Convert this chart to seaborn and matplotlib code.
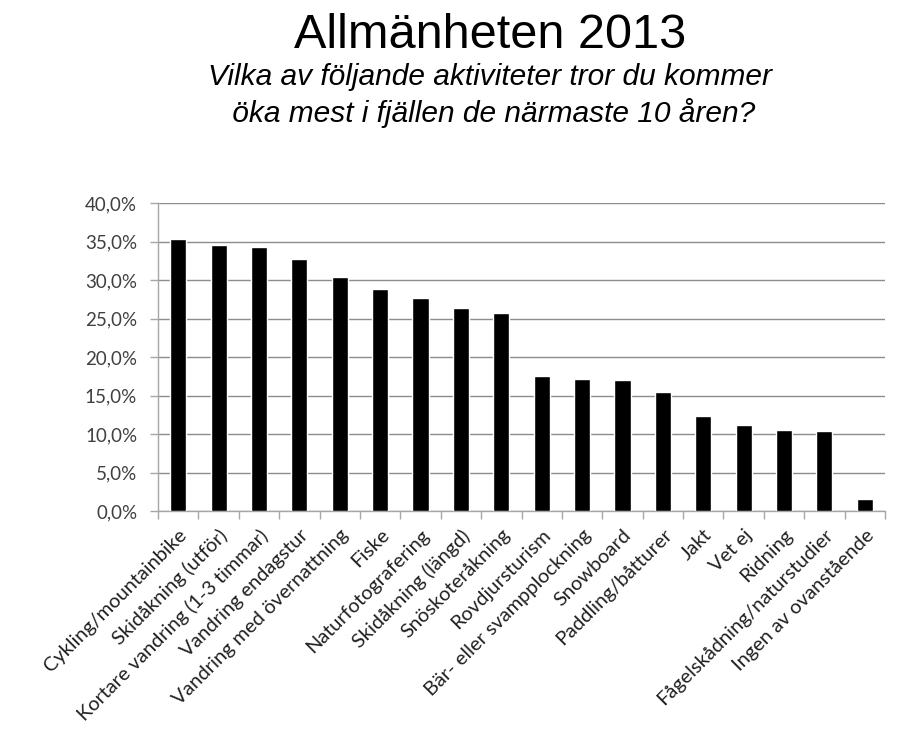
import matplotlib
matplotlib.use("Agg")
import matplotlib.pyplot as plt
import seaborn as sns
import pandas as pd
from matplotlib.ticker import FuncFormatter, FixedLocator

categories = [
    "Cykling/mountainbike", "Skidåkning (utför)", "Kortare vandring (1-3 timmar)",
    "Vandring endagstur", "Vandring med övernattning", "Fiske", "Naturfotografering",
    "Skidåkning (längd)", "Snöskoteråkning", "Rovdjursturism",
    "Bär- eller svampplockning", "Snowboard", "Paddling/båtturer", "Jakt", "Vet ej",
    "Ridning", "Fågelskådning/naturstudier", "Ingen av ovanstående",
]
values = [35.3, 34.5, 34.3, 32.7, 30.4, 28.8, 27.6, 26.4, 25.7,
          17.5, 17.2, 17.0, 15.5, 12.4, 11.2, 10.5, 10.4, 1.55]
yticks = [0, 5, 10, 15, 20, 25, 30, 35, 40]

df = pd.DataFrame({"aktivitet": categories, "andel": values})

sns.set_theme(style="white")
plt.rcParams["font.family"] = ["Lato", "DejaVu Sans"]

fig = plt.figure(figsize=(9, 7.47), dpi=100)
ax = fig.add_axes([158/900, 1-511/747, (885-158)/900, (511-203)/747])

sns.barplot(data=df, x="aktivitet", y="andel", color="black", width=0.4,
            saturation=1, ax=ax, zorder=3)

ax.set_ylim(0, 40)
ax.set_xlim(-0.5, len(categories) - 0.5)
ax.yaxis.set_major_locator(FixedLocator(yticks))
ax.yaxis.set_major_formatter(FuncFormatter(lambda v, p: f"{v:.1f}".replace(".", ",") + "%"))
ax.grid(axis="y", color="#8c8c8c", lw=1, zorder=0)
ax.set_xlabel("")
ax.set_ylabel("")

for s in ["top", "right"]:
    ax.spines[s].set_visible(False)
for s in ["left", "bottom"]:
    ax.spines[s].set_color("#a6a6a6")
    ax.spines[s].set_linewidth(1)

ax.tick_params(axis="y", left=True, length=6, width=1, color="#a6a6a6",
               labelsize=13.5, labelcolor="#404040", pad=9)
ax.set_xticks(range(len(categories)))
ax.set_xticklabels(categories, rotation=45, ha="right", rotation_mode="anchor",
                   fontsize=14.4, color="#202020")
ax.tick_params(axis="x", bottom=False, length=0, pad=11)
ax.set_xticks([i - 0.5 for i in range(len(categories) + 1)], minor=True)
ax.tick_params(axis="x", which="minor", bottom=True, length=6, width=1, color="#a6a6a6")

cx = 490 / 900
fig.text(cx, 1-48/747, "Allmänheten 2013", ha="center", va="baseline",
         fontsize=35, family=["Liberation Sans", "DejaVu Sans"], color="black")
fig.text(cx, 1-85/747, "Vilka av följande aktiviteter tror du kommer", ha="center",
         va="baseline", fontsize=21.5, style="italic",
         family=["Liberation Sans", "DejaVu Sans"], color="black")
fig.text(cx, 1-122/747, " öka mest i fjällen de närmaste 10 åren?", ha="center",
         va="baseline", fontsize=21.5, style="italic",
         family=["Liberation Sans", "DejaVu Sans"], color="black")

fig.savefig("out.png", dpi=100, facecolor="white")
